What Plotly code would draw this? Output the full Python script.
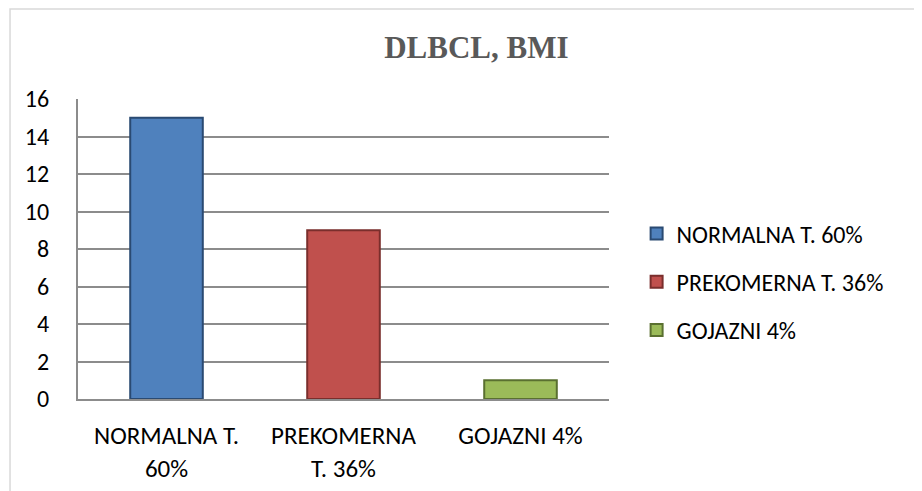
import plotly.graph_objects as go

# Data
categories = ["NORMALNA T.<br>60%", "PREKOMERNA<br>T. 36%", "GOJAZNI 4%"]
legend_names = ["NORMALNA T. 60%", "PREKOMERNA T. 36%", "GOJAZNI 4%"]
values = [15, 9, 1]
y_ticks = [0, 2, 4, 6, 8, 10, 12, 14, 16]

# Office-style colors
bar_colors = ["#4F81BD", "#C0504D", "#9BBB59"]
edge_colors = ["#2A4A72", "#7A2E2C", "#5A7030"]
COLOR_GRID = "#8C8C8C"
COLOR_TITLE = "#595959"
FONT = "Carlito, Lato, 'Open Sans', sans-serif"

fig = go.Figure()

for i, (cat, name, val) in enumerate(zip(categories, legend_names, values)):
    fig.add_trace(go.Bar(
        x=[cat],
        y=[val],
        name=name,
        legendgroup=name,
        width=0.41,
        marker=dict(color=bar_colors[i], line=dict(color=edge_colors[i], width=2)),
    ))

fig.update_layout(
    width=922,
    height=491,
    barmode="overlay",
    paper_bgcolor="white",
    plot_bgcolor="white",
    font=dict(family=FONT, size=24, color="black"),
    title=dict(
        text="<b>DLBCL, BMI</b>",
        x=0.508,
        xanchor="center",
        y=0.92,
        yanchor="middle",
        font=dict(family="'Liberation Serif', 'DejaVu Serif', serif", size=31, color=COLOR_TITLE),
    ),
    margin=dict(l=70, r=321, t=91, b=100),
    legend=dict(
        x=1.052,
        xanchor="left",
        y=0.39,
        yanchor="middle",
        font=dict(family=FONT, size=24, color="black"),
        tracegroupgap=14,
        bgcolor="rgba(0,0,0,0)",
    ),
    showlegend=True,
    shapes=[
        dict(
            type="rect",
            xref="paper",
            yref="paper",
            x0=-0.128,
            x1=2.0,
            y0=-1.0,
            y1=1.3,
            line=dict(color="#D9D9D9", width=1.5),
            fillcolor="rgba(0,0,0,0)",
            layer="below",
        )
    ],
)

fig.update_xaxes(
    categoryorder="array",
    categoryarray=categories,
    showgrid=False,
    showline=True,
    linecolor=COLOR_GRID,
    linewidth=2,
    ticks="",
    ticklabelstandoff=13,
    tickfont=dict(family=FONT, size=25, color="black"),
)

fig.update_yaxes(
    range=[0, 16],
    tickvals=y_ticks,
    showgrid=True,
    gridcolor=COLOR_GRID,
    gridwidth=2,
    showline=True,
    linecolor=COLOR_GRID,
    linewidth=2,
    zeroline=False,
    ticks="",
    ticklabelstandoff=22,
    tickfont=dict(family=FONT, size=24, color="black"),
)

fig.write_html("out.html")
